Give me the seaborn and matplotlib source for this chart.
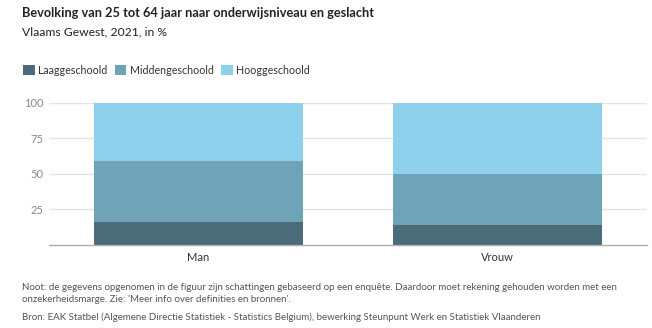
import matplotlib
matplotlib.use("Agg")
import matplotlib.pyplot as plt
from matplotlib.patches import Patch
import seaborn as sns
import pandas as pd
import numpy as np

categories = ["Man", "Vrouw"]
series = ["Laaggeschoold", "Middengeschoold", "Hooggeschoold"]
laag = [16.4, 14.3]
midden = [42.4, 35.4]
hoog = [41.2, 50.3]
yticks = [25, 50, 75, 100]
colors = ["#4a6b78", "#6fa3b8", "#8ed1ec"]

sns.set_theme(style="white")
plt.rcParams['font.family'] = ['Lato', 'DejaVu Sans']

fig = plt.figure(figsize=(6.52, 3.28), dpi=100)
ax = fig.add_axes([49/652, 1-245/328, 598/652, (245-102.7)/328])

vals = [laag, midden, hoog]
cum = np.cumsum(np.array(vals), axis=0)
# draw from top layer down so lower layers cover
for i in range(len(series)-1, -1, -1):
    df = pd.DataFrame({"cat": categories, "val": cum[i]})
    sns.barplot(data=df, x="cat", y="val", color=colors[i], width=0.7,
                ax=ax, saturation=1, edgecolor="none", linewidth=0)

ax.set_xlim(-0.5, 1.5)
ax.set_ylim(0, 100)
ax.set_yticks(yticks)
ax.set_yticklabels([str(t) for t in yticks])
ax.set_xlabel("")
ax.set_ylabel("")
ax.set_axisbelow(True)
ax.yaxis.grid(True, color="#e3e3e3", linewidth=1)
for s in ["top", "right", "left"]:
    ax.spines[s].set_visible(False)
ax.spines["bottom"].set_color("#b0b0b0")
ax.spines["bottom"].set_linewidth(1)
ax.tick_params(axis="y", length=0, labelsize=8, labelcolor="#888888", pad=4)
ax.tick_params(axis="x", length=0, labelsize=8, labelcolor="#333333", pad=5)

fig.text(22/652, 1-13/328, "Bevolking van 25 tot 64 jaar naar onderwijsniveau en geslacht",
         fontsize=9.2, fontweight="bold", color="#222222", va="center", ha="left")
fig.text(22/652, 1-32/328, "Vlaams Gewest, 2021, in %",
         fontsize=8.7, color="#222222", va="center", ha="left")

handles = [Patch(facecolor=c, edgecolor="none") for c in colors]
fig.legend(handles, series, loc="center left", bbox_to_anchor=(23/652, 1-70/328),
           ncol=3, frameon=False, fontsize=7.7, handlelength=1.1, handleheight=1.1,
           handletextpad=0.3, columnspacing=0.7, labelcolor="#333333",
           borderpad=0, borderaxespad=0)

foot = "#555555"
fs = 7.05
fig.text(22/652, 1-287/328, "Noot: de gegevens opgenomen in de figuur zijn schattingen gebaseerd op een enquête. Daardoor moet rekening gehouden worden met een",
         fontsize=fs, color=foot, va="center", ha="left")
fig.text(22/652, 1-299/328, "onzekerheidsmarge. Zie: 'Meer info over definities en bronnen'.",
         fontsize=fs, color=foot, va="center", ha="left")
fig.text(22/652, 1-317/328, "Bron: EAK Statbel (Algemene Directie Statistiek - Statistics Belgium), bewerking Steunpunt Werk en Statistiek Vlaanderen",
         fontsize=fs, color=foot, va="center", ha="left")

fig.savefig("out.png", dpi=100)
